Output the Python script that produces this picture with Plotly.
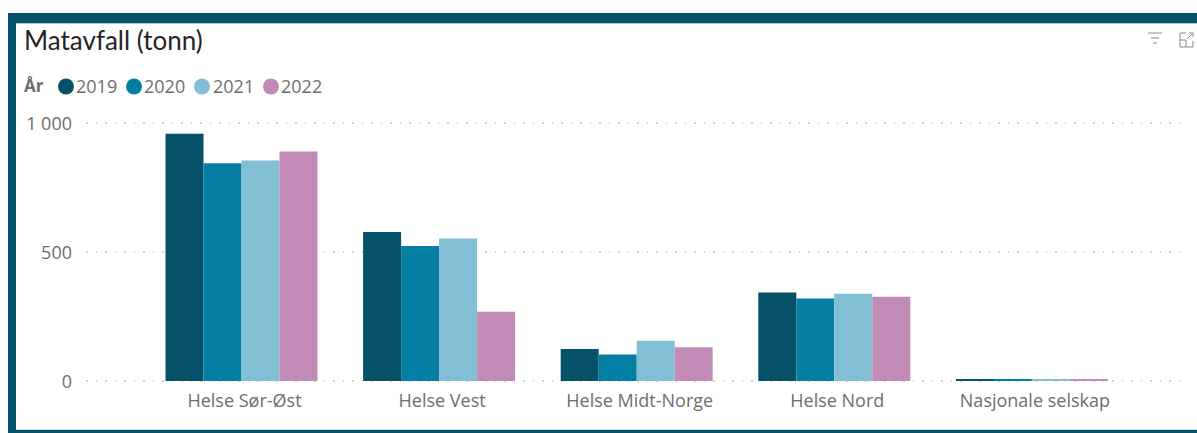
import plotly.graph_objects as go

categories = ["Helse Sør-Øst", "Helse Vest", "Helse Midt-Norge", "Helse Nord", "Nasjonale selskap"]
years = ["2019", "2020", "2021", "2022"]
v2019 = [958, 578, 124, 343, 7]
v2020 = [844, 523, 103, 320, 7]
v2021 = [855, 552, 156, 338, 6]
v2022 = [890, 268, 131, 327, 7]
colors = ["#045168", "#047FA3", "#82BED4", "#C28BB6"]
tick_vals = [0, 500, 1000]
tick_text = ["0", "500", "1 000"]
title = "Matavfall (tonn)"
legend_title = "År"

W, H = 1197, 433
PADPX = 3
L, R, T, B = 86, 1187, 123 - PADPX, 381 + PADPX

def px(x): return x / W
def py(y): return 1 - y / H

fig = go.Figure()
for name, vals, c in zip(years, [v2019, v2020, v2021, v2022], colors):
    fig.add_trace(go.Bar(x=categories, y=vals, name=name, marker=dict(color=c, line=dict(width=0)),
                         showlegend=False))

step = 197.6
c0 = 241.5
pad = PADPX / 258 * 1000
fig.update_layout(
    template="none",
    width=W, height=H, autosize=False,
    margin=dict(l=0, r=0, t=0, b=0),
    paper_bgcolor="white", plot_bgcolor="white",
    barmode="group", bargap=1 - 152 / step, bargroupgap=0,
    font=dict(family="Open Sans", color="#6E6E6E", size=18),
    showlegend=False,
    xaxis=dict(domain=[px(L), px(R)], range=[(L - c0) / step, (R - c0) / step], automargin=False,
               showgrid=False, zeroline=False, showline=False, ticks="", ticklabelstandoff=4,
               ticklabelshift=3,
               tickfont=dict(size=18, color="#6E6E6E", family="Open Sans")),
    yaxis=dict(domain=[py(B), py(T)], range=[-pad, 1000 + pad], tickvals=tick_vals, ticktext=tick_text,
               automargin=False, showgrid=True, gridcolor="#D2D2D2", griddash="1.5px,8px", gridwidth=1.5,
               zeroline=False, showline=False, ticks="", ticklabelstandoff=13, ticklabelshift=1,
               tickfont=dict(size=18, color="#6E6E6E", family="Open Sans")),
)

frame = "#045168"
shapes = [
    dict(type="rect", xref="paper", yref="paper", x0=px(8), x1=px(16), y0=py(433), y1=py(13), fillcolor=frame, line_width=0, layer="above"),
    dict(type="rect", xref="paper", yref="paper", x0=px(8), x1=1, y0=py(23), y1=py(13), fillcolor=frame, line_width=0, layer="above"),
    dict(type="rect", xref="paper", yref="paper", x0=px(16), x1=1, y0=py(24), y1=py(23), fillcolor="#A9CAD6", line_width=0, layer="above"),
    dict(type="rect", xref="paper", yref="paper", x0=px(8), x1=1, y0=py(433), y1=py(430), fillcolor=frame, line_width=0, layer="above"),
    dict(type="rect", xref="paper", yref="paper", x0=px(16), x1=1, y0=py(430), y1=py(429), fillcolor="#D5DFE3", line_width=0, layer="above"),
]
# filter icon
for x0, x1, y in [(1148, 1162, 33), (1151, 1159, 38), (1153, 1157, 43)]:
    shapes.append(dict(type="line", xref="paper", yref="paper", x0=px(x0), x1=px(x1), y0=py(y), y1=py(y),
                       line=dict(color="#8a8a8a", width=1)))
# focus icon
for (a, b, c, d) in [(1180, 33, 1180, 47), (1180, 47, 1193, 47), (1193, 47, 1193, 41), (1180, 33, 1186, 33),
                     (1180, 40, 1186, 40), (1186, 40, 1186, 47), (1187, 39, 1192, 34),
                     (1189, 33, 1193, 33), (1193, 33, 1193, 37)]:
    shapes.append(dict(type="line", xref="paper", yref="paper", x0=px(a), x1=px(c), y0=py(b), y1=py(d),
                       line=dict(color="#8a8a8a", width=1)))
# legend markers
leg_x = [66, 134, 202, 271]
for x, c in zip(leg_x, colors):
    shapes.append(dict(type="circle", xref="paper", yref="paper", x0=px(x - 8), x1=px(x + 8), y0=py(94.5), y1=py(78.5),
                       fillcolor=c, line_width=0))
fig.update_layout(shapes=shapes)

ann = [dict(text=title, x=px(22), y=py(40), xanchor="left", yanchor="middle", xref="paper", yref="paper",
            showarrow=False, font=dict(family="Lato", size=26, color="#252423")),
       dict(text="<b>" + legend_title + "</b>", x=px(22), y=py(86), xanchor="left", yanchor="middle", xref="paper", yref="paper",
            showarrow=False, font=dict(family="Open Sans", size=17, color="#6E6E6E"))]
for x, t in zip([74, 142, 211, 279], years):
    ann.append(dict(text=t, x=px(x), y=py(86), xanchor="left", yanchor="middle", xref="paper", yref="paper",
                    showarrow=False, font=dict(family="Open Sans", size=18, color="#6E6E6E")))
fig.update_layout(annotations=ann)

fig.write_html("out.html", config={"displayModeBar": False},
               post_script="document.body.style.margin='0';document.body.style.overflow='hidden';")
